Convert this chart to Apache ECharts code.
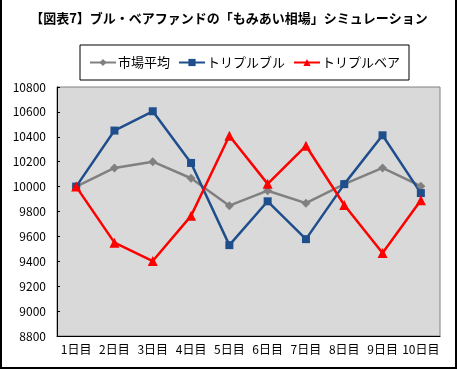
<!DOCTYPE html>
<html><head><meta charset="utf-8">
<script src="https://cdn.jsdelivr.net/npm/echarts@6/dist/echarts.min.js"></script>
<style>html,body{margin:0;padding:0;background:#fff}#c{width:458px;height:370px}</style>
</head><body><div id="c"></div>
<script>
const categories = ['1日目','2日目','3日目','4日目','5日目','6日目','7日目','8日目','9日目','10日目'];
const marketAvg = [10000,10150,10200,10067,9847,9967,9867,10020,10150,10003];
const tripleBull = [10000,10450,10605,10190,9530,9882,9578,10020,10412,9948];
const tripleBear = [10000,9550,9402,9765,10408,10022,10328,9852,9467,9890];
const seriesNames = ['市場平均','トリプルブル','トリプルベア'];
const titleText = '【図表7】ブル・ベアファンドの「もみあい相場」シミュレーション';

const font = '"Noto Sans CJK JP", sans-serif';
const chart = echarts.init(document.getElementById('c'));
chart.setOption({
  animation: false,
  backgroundColor: '#fff',
  title: {
    text: titleText, left: 'center', top: 7,
    textStyle: {fontFamily: font, fontSize: 13, fontWeight: 'bold', color: '#000'}
  },
  legend: {
    data: seriesNames, left: 80, top: 45,
    padding: [11, 9, 11, 9], itemGap: 8, itemWidth: 26, itemHeight: 9,
    borderColor: '#000', borderWidth: 1, backgroundColor: '#fff',
    textStyle: {fontFamily: font, fontSize: 13, color: '#000', padding: [0,0,0,-3]}
  },
  grid: {left: 57, right: 18, top: 87, bottom: 34, show: true,
    backgroundColor: '#d9d9d9', borderColor: '#808080', borderWidth: 1},
  xAxis: {
    type: 'category', data: categories, boundaryGap: true,
    axisLine: {lineStyle: {color: '#000', width: 1}},
    axisTick: {inside: true, length: 3, lineStyle: {color: '#000'}},
    axisLabel: {fontFamily: font, fontSize: 12, color: '#000', margin: 7, interval: 0}
  },
  yAxis: {
    type: 'value', min: 8800, max: 10800, interval: 200,
    axisLine: {show: true, lineStyle: {color: '#000', width: 1}},
    axisTick: {show: true, inside: true, length: 3, lineStyle: {color: '#000'}},
    splitLine: {show: false},
    axisLabel: {fontFamily: font, fontSize: 12, color: '#000', margin: 11,
      formatter: v => String(v)}
  },
  series: [
    {name: seriesNames[0], type: 'line', data: marketAvg, symbol: 'diamond', symbolSize: 9,
      lineStyle: {color: '#808080', width: 2.5}, itemStyle: {color: '#808080'}},
    {name: seriesNames[1], type: 'line', data: tripleBull, symbol: 'rect', symbolSize: 8,
      lineStyle: {color: '#1f4e8c', width: 2.5}, itemStyle: {color: '#1f4e8c'}},
    {name: seriesNames[2], type: 'line', data: tripleBear, symbol: 'triangle', symbolSize: 10,
      lineStyle: {color: '#ff0000', width: 2.5}, itemStyle: {color: '#ff0000'}}
  ],
  graphic: [
    {type: 'rect', shape: {x: 1, y: -5, width: 455, height: 373},
      style: {fill: null, stroke: '#000', lineWidth: 2}, silent: true}
  ]
});
</script></body></html>
